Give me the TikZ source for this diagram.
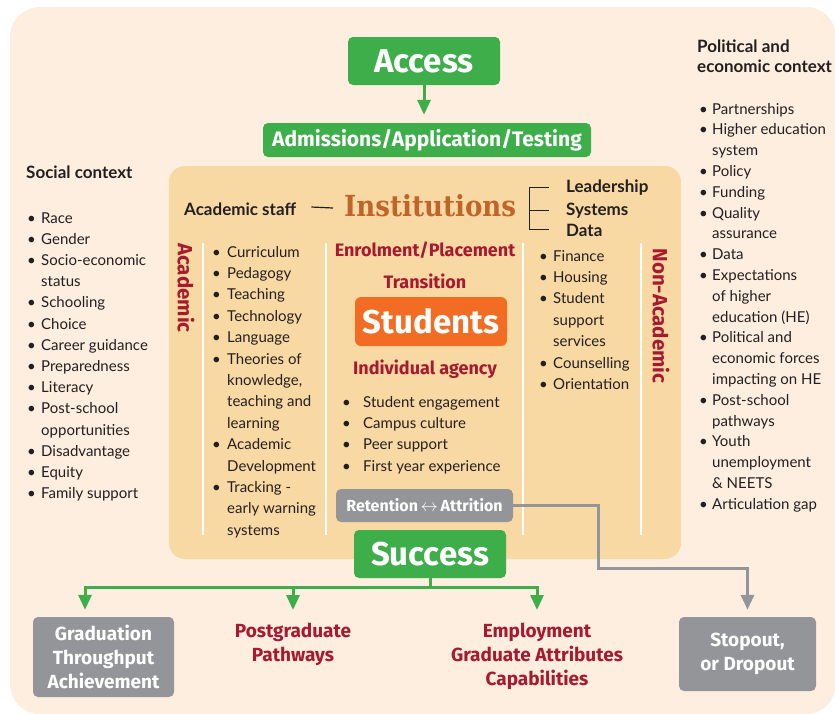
\documentclass[tikz,border=0pt]{standalone}
\usepackage{fontspec}
\setmainfont{Lato}
\newfontfamily\boxfont{Fira Sans}
\newfontfamily\instfont{DejaVu Serif}
\usetikzlibrary{positioning,arrows.meta}
\definecolor{bgpeach}{RGB}{253,238,223}
\definecolor{instorange}{RGB}{249,217,163}
\definecolor{accgreen}{RGB}{62,174,74}
\definecolor{studorange}{RGB}{242,108,35}
\definecolor{boxgray}{RGB}{147,149,152}
\definecolor{labred}{RGB}{166,25,46}
\definecolor{instbrown}{RGB}{192,101,42}
\definecolor{textdark}{RGB}{35,31,32}

\begin{document}
\begin{tikzpicture}[x=1pt,y=-1pt,
    greenbox/.style={fill=accgreen, rounded corners=5pt, text=white, inner sep=0pt},
    graybox/.style={fill=boxgray, rounded corners=5pt, text=white, inner sep=0pt, align=center,
      font=\boxfont\bfseries\fontsize{19}{24}\selectfont},
    bigword/.style={font=\boxfont\bfseries\fontsize{33}{36}\selectfont},
    redlabel/.style={text=labred, inner sep=0pt, font=\boxfont\bfseries\fontsize{18}{24}\selectfont},
    heading/.style={text=textdark, inner sep=0pt, anchor=base west, font=\bfseries\fontsize{17}{20.5}\selectfont},
    itemlist/.style={text=textdark, inner sep=0pt, anchor=base west, font=\fontsize{15}{21.4}\selectfont},
    greenarr/.style={draw=accgreen, line width=3pt, -{Triangle[length=15pt,width=13pt]}},
    grayarr/.style={draw=boxgray, line width=3pt, -{Triangle[length=15pt,width=13pt]}},
  ]
  \useasboundingbox (0,0) rectangle (835,713);
  \fill[bgpeach, rounded corners=30pt] (10,7) rectangle (836,714);
  \fill[instorange, rounded corners=16pt] (169,166) rectangle (681,559);

  % access
  \node[greenbox, bigword, minimum width=152pt, minimum height=48pt] (access) at (424,61) {Access};
  \node[greenbox, font=\boxfont\bfseries\fontsize{21}{24}\selectfont, minimum width=328pt, minimum height=34pt] (adm) at (427,140) {Admissions/Application/Testing};
  \draw[greenarr, shorten >=8pt] (access.south) -- (access.south |- adm.north);

  % institutions
  \node[heading] (staff) at (184,215) {Academic staff};
  \node[anchor=base west, inner sep=0pt, text=instbrown, font=\instfont\bfseries\fontsize{29}{34}\selectfont] (inst) at (344,216) {\scalebox{0.9}[1]{Institutions}};
  \draw[textdark, line width=1.2pt] ([shift={(15,-8)}]staff.base east) -- ([shift={(-11,-8)}]inst.base west);
  \node[heading] (lead) at (566,192) {Leadership};
  \node[heading] (sys) at (566,215) {Systems};
  \node[heading] (data) at (566,236) {Data};
  \draw[textdark, line width=1pt] ([xshift=-17pt]lead.west) -- ++(-20,0) |- ([xshift=-17pt]data.west);
  \draw[textdark, line width=1pt] ([xshift=-37pt]sys.west) -- ++(20,0);

  \foreach \x in {203,326,523,641}
    \draw[white, line width=1.2pt] (\x,243) -- (\x,535);

  \node[redlabel, rotate=-90, font=\boxfont\bfseries\fontsize{20.5}{24}\selectfont] (acad) at (186,288) {Academic};
  \node[redlabel, rotate=-90, font=\boxfont\bfseries\fontsize{20.5}{24}\selectfont] (nonacad) at (661,316) {Non-Academic};

  \node[itemlist] (acadlist) at (212,257) {\begin{tabular}[t]{@{}p{15pt}@{}l@{}}
    \textbullet & Curriculum\\
    \textbullet & Pedagogy\\
    \textbullet & Teaching\\
    \textbullet & Technology\\
    \textbullet & Language\\
    \textbullet & Theories of\\
    & knowledge,\\
    & teaching and\\
    & learning\\
    \textbullet & Academic\\
    & Development\\
    \textbullet & Tracking -\\
    & early warning\\
    & systems
  \end{tabular}};

  % students
  \node[redlabel, anchor=base] (enrol) at (425,256) {Enrolment/Placement};
  \node[redlabel, anchor=base] (trans) at (425,288) {Transition};
  \node[fill=studorange, rounded corners=6pt, text=white, inner sep=0pt, bigword,
    minimum width=152pt, minimum height=49pt] (stud) at (431,321.5) {Students};
  \node[redlabel, anchor=base] (agency) at (425,374) {Individual agency};
  \node[itemlist] (agencylist) at (342,407) {\begin{tabular}[t]{@{}p{21pt}@{}l@{}}
    \textbullet & Student engagement\\
    \textbullet & Campus culture\\
    \textbullet & Peer support\\
    \textbullet & First year experience
  \end{tabular}};
  \node[graybox, font=\boxfont\bfseries\fontsize{16}{18}\selectfont, minimum width=177pt, minimum height=33pt] (ret) at (424.5,505.5) {Retention\,$\leftrightarrow$\,Attrition};
  \node[greenbox, bigword, minimum width=152pt, minimum height=48pt] (succ) at (430,554) {Success};

  \node[itemlist] (nonacadlist) at (539,261) {\begin{tabular}[t]{@{}p{14pt}@{}l@{}}
    \textbullet & Finance\\
    \textbullet & Housing\\
    \textbullet & Student\\
    & support\\
    & services\\
    \textbullet & Counselling\\
    \textbullet & Orientation
  \end{tabular}};

  % context
  \node[heading] (social) at (26,178) {Social context};
  \node[itemlist, font=\fontsize{15}{21.2}\selectfont] (sociallist) at (27,223) {\begin{tabular}[t]{@{}p{14pt}@{}l@{}}
    \textbullet & Race\\
    \textbullet & Gender\\
    \textbullet & Socio-economic\\
    & status\\
    \textbullet & Schooling\\
    \textbullet & Choice\\
    \textbullet & Career guidance\\
    \textbullet & Preparedness\\
    \textbullet & Literacy\\
    \textbullet & Post-school\\
    & opportunities\\
    \textbullet & Disadvantage\\
    \textbullet & Equity\\
    \textbullet & Family support
  \end{tabular}};

  \node[heading] (polit) at (697,52) {\begin{tabular}[t]{@{}l@{}}Political and\\economic context\end{tabular}};
  \node[itemlist, font=\fontsize{15}{20.8}\selectfont] (politlist) at (699,114) {\begin{tabular}[t]{@{}p{13pt}@{}l@{}}
    \textbullet & Partnerships\\
    \textbullet & Higher education\\
    & system\\
    \textbullet & Policy\\
    \textbullet & Funding\\
    \textbullet & Quality\\
    & assurance\\
    \textbullet & Data\\
    \textbullet & Expectations\\
    & of higher\\
    & education (HE)\\
    \textbullet & Political and\\
    & economic forces\\
    & impacting on HE\\
    \textbullet & Post-school\\
    & pathways\\
    \textbullet & Youth\\
    & unemployment\\
    & \& NEETS\\
    \textbullet & Articulation gap
  \end{tabular}};

  % outcomes
  \node[graybox, minimum width=141pt, minimum height=80pt] (grad) at (103.5,657) {Graduation\\Throughput\\Achievement};
  \node[redlabel, font=\boxfont\bfseries\fontsize{19}{24}\selectfont, align=center, anchor=north] (pg) at (293,623) {Postgraduate\\Pathways};
  \node[redlabel, font=\boxfont\bfseries\fontsize{19}{24}\selectfont, align=center, anchor=north] (emp) at (537,623) {Employment\\Graduate Attributes\\Capabilities};
  \node[graybox, minimum width=137pt, minimum height=74pt] (stop) at (747.5,654) {Stopout,\\or Dropout};

  \draw[greenarr] (succ.south) -- ++(0,9) -| ([shift={(-18.5,-7)}]grad.north);
  \draw[greenarr] (succ.south) -- ++(0,9) -| ([yshift=13pt]pg.north);
  \draw[greenarr] (succ.south) -- ++(0,9) -| ([yshift=13pt]emp.north);
  \draw[grayarr] (ret.east) -- ++(85,0) |- ([yshift=48pt]stop.north) -- ([yshift=7pt]stop.north);
\end{tikzpicture}
\end{document}
